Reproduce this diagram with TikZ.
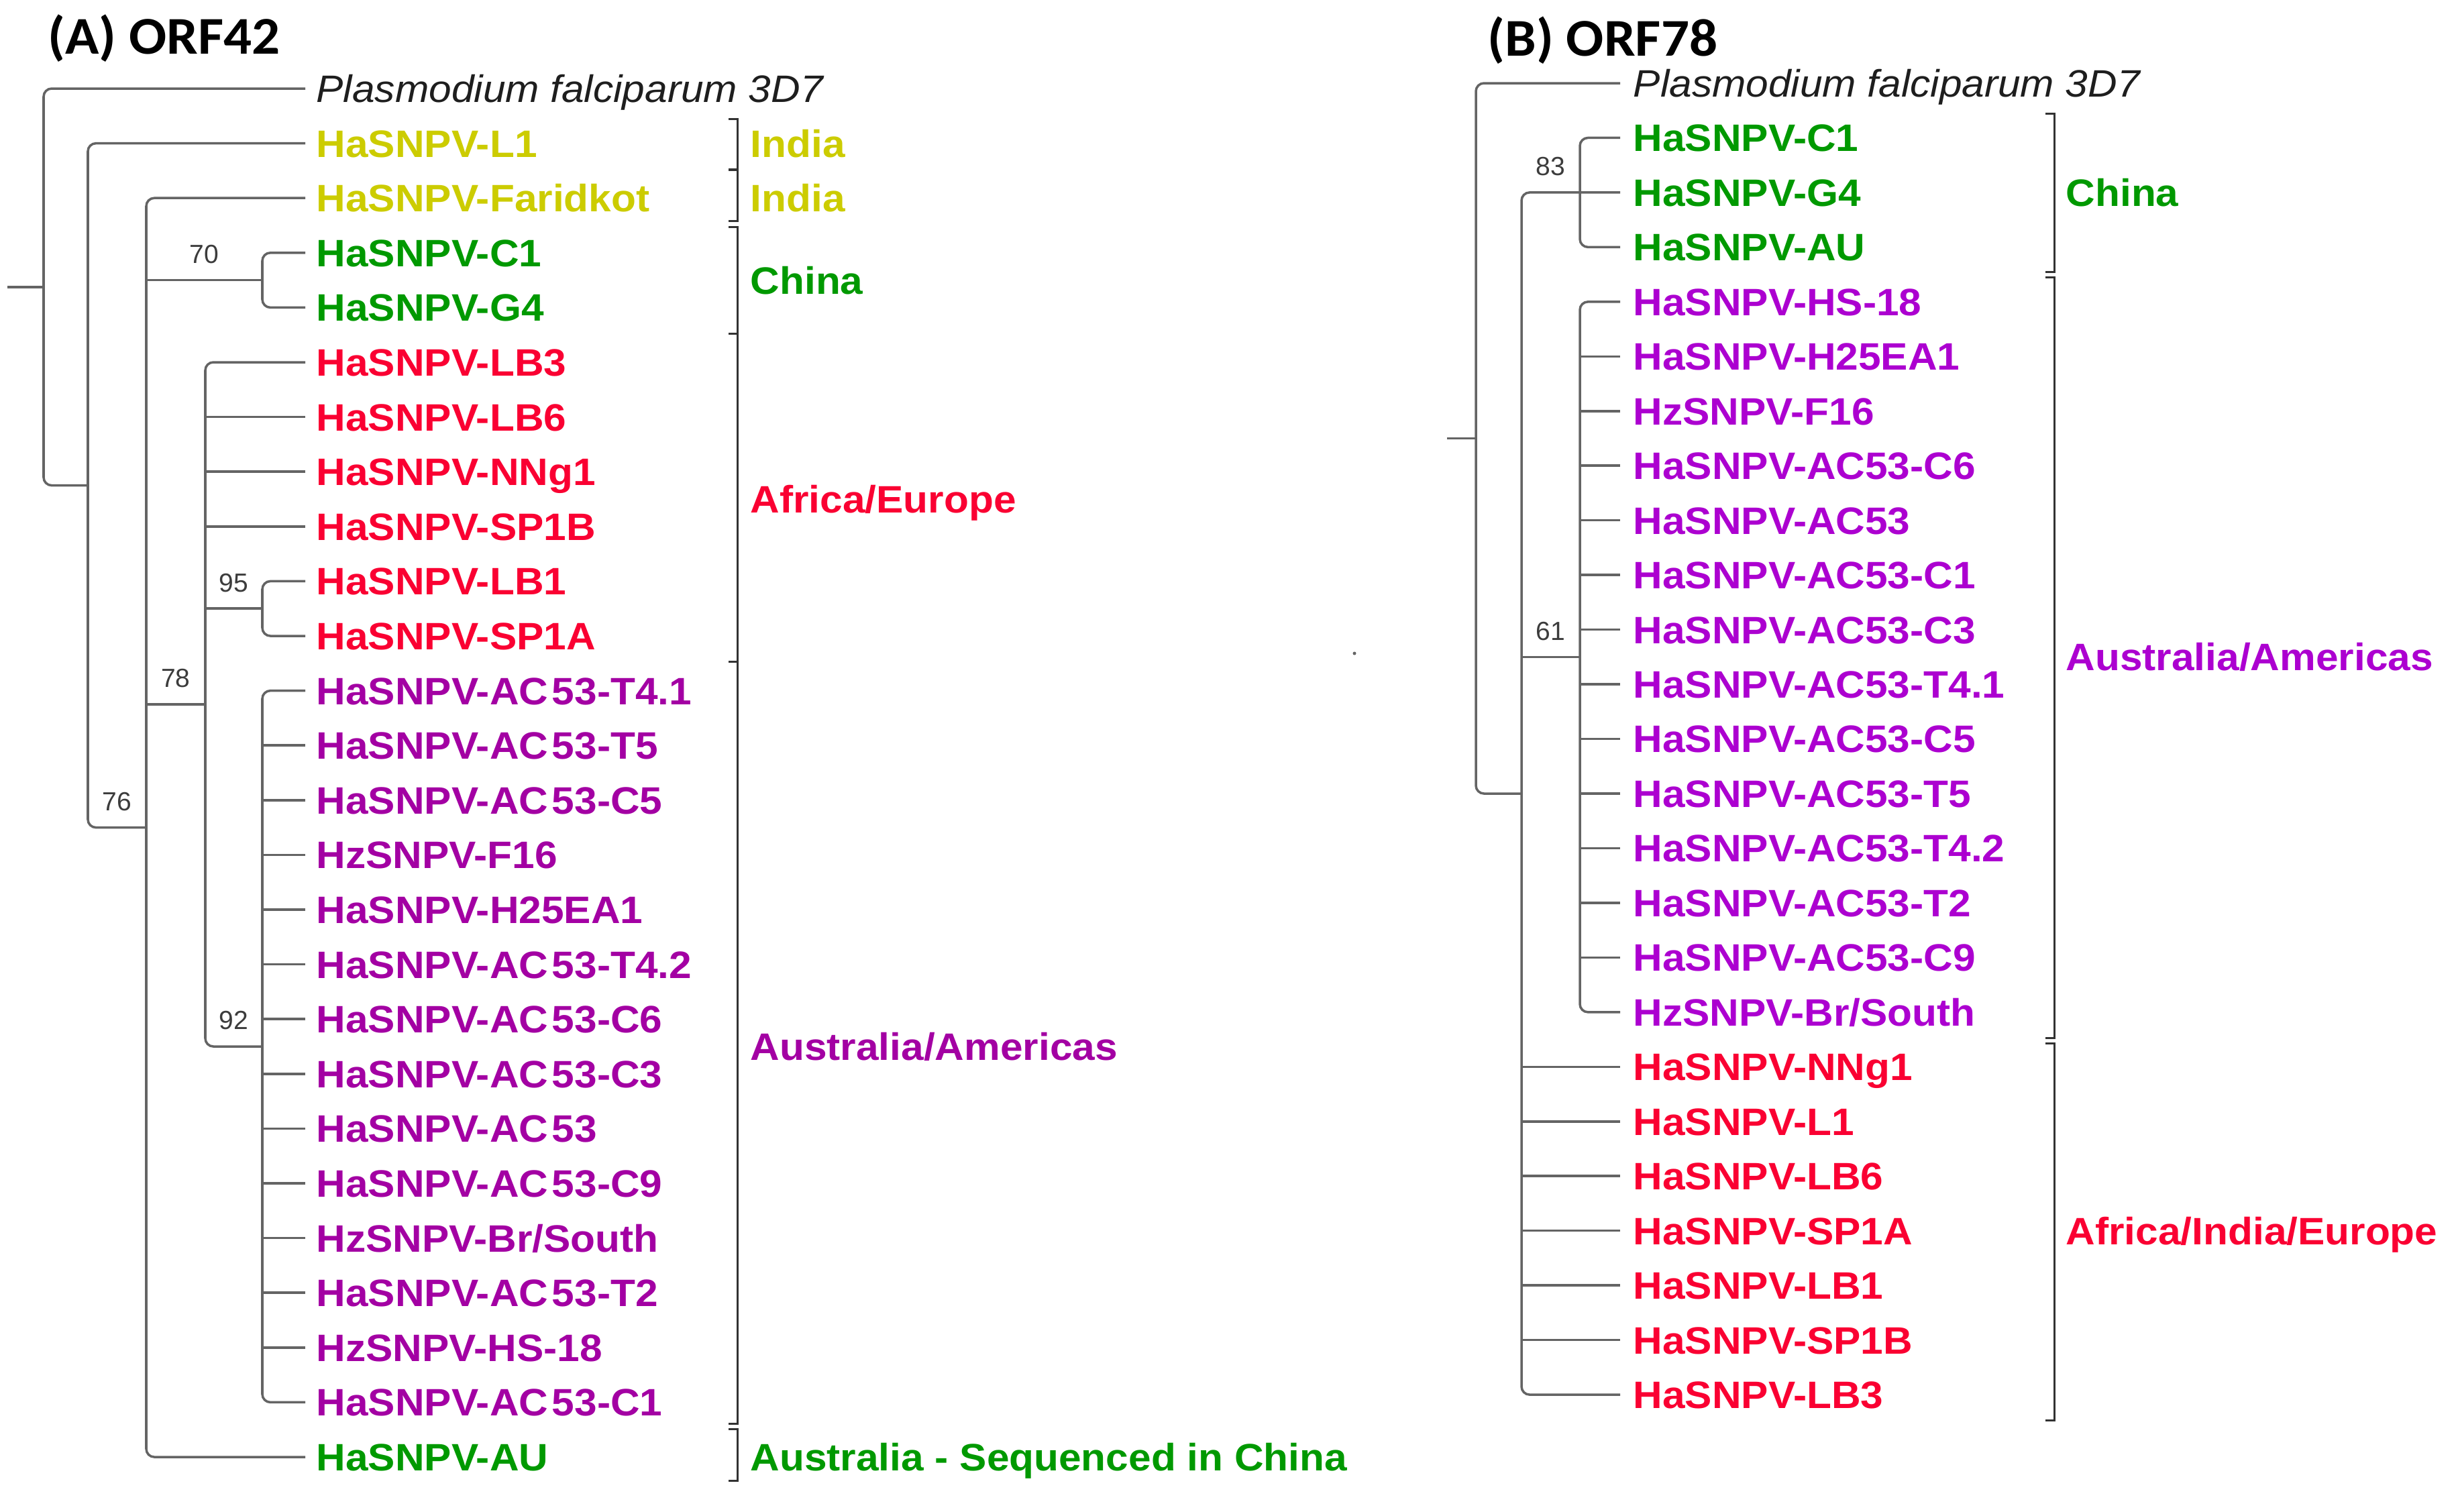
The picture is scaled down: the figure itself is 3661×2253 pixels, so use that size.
\documentclass[tikz,border=0pt]{standalone}
\usepackage{fontspec}
\newfontfamily\labfont[FakeStretch=1.06]{Liberation Sans}
\newfontfamily\titfont[FakeStretch=1.05]{Carlito}
\newfontfamily\numfont{Liberation Sans}
\definecolor{indiaY}{RGB}{204,204,0}
\definecolor{chinaG}{RGB}{0,153,0}
\definecolor{redR}{RGB}{250,0,50}
\definecolor{purA}{RGB}{163,0,163}
\definecolor{purB}{RGB}{172,0,208}
\definecolor{treegray}{RGB}{100,100,100}
\definecolor{brkgray}{RGB}{50,50,50}
\definecolor{bootgray}{RGB}{60,60,60}
\definecolor{plasblack}{RGB}{30,30,30}
\begin{document}
\begin{tikzpicture}[x=0.01cm,y=-0.01cm,
  tree/.style={draw=treegray,line width=1pt,rounded corners=1.2mm},
  brk/.style={draw=brkgray,line width=0.85pt},
  leaf/.style={anchor=base west,inner sep=0pt,yshift=-2.04mm,font=\labfont\bfseries\fontsize{16.2}{18}\selectfont},
  plas/.style={anchor=base west,inner sep=0pt,yshift=-2.04mm,font=\labfont\itshape\fontsize{16.2}{18}\selectfont,text=plasblack},
  boot/.style={anchor=south,inner sep=0pt,font=\numfont\fontsize{11.1}{13}\selectfont,text=bootgray},
  ttl/.style={anchor=base west,inner sep=0pt,font=\titfont\bfseries\fontsize{22.5}{26}\selectfont}]
\useasboundingbox[fill=white] (0,0) rectangle (3661,2253);

% ================= Panel A =================
\node[ttl] (titleA) at (71,80) {(A) ORF42};
\node[plas] (A0) at (471,132) {Plasmodium falciparum 3D7};
\coordinate (Ae0) at (455,132);
\foreach \i/\t/\c in {1/HaSNPV-L1/indiaY,2/HaSNPV-Faridkot/indiaY,3/HaSNPV-C1/chinaG,4/HaSNPV-G4/chinaG,
  5/HaSNPV-LB3/redR,6/HaSNPV-LB6/redR,7/HaSNPV-NNg1/redR,8/HaSNPV-SP1B/redR,9/HaSNPV-LB1/redR,10/HaSNPV-SP1A/redR,
  11/{HaSNPV-AC\kern.1em 53-T4.1}/purA,12/{HaSNPV-AC\kern.1em 53-T5}/purA,13/{HaSNPV-AC\kern.1em 53-C5}/purA,
  14/HzSNPV-F16/purA,15/HaSNPV-H25EA1/purA,16/{HaSNPV-AC\kern.1em 53-T4.2}/purA,17/{HaSNPV-AC\kern.1em 53-C6}/purA,
  18/{HaSNPV-AC\kern.1em 53-C3}/purA,19/{HaSNPV-AC\kern.1em 53}/purA,20/{HaSNPV-AC\kern.1em 53-C9}/purA,
  21/{HzSNPV-Br/South}/purA,22/{HaSNPV-AC\kern.1em 53-T2}/purA,23/HzSNPV-HS-18/purA,24/{HaSNPV-AC\kern.1em 53-C1}/purA,
  25/HaSNPV-AU/chinaG}{
  \node[leaf,text=\c] (A\i) at (471,{132+81.6*\i}) {\t};
  \coordinate (Ae\i) at (455,{132+81.6*\i});
}
% internal nodes
\coordinate (aStub) at (11,427.8);
\coordinate (aRoot) at (65,427.8);
\coordinate (aN2) at (131,723.6);
\coordinate (a76) at (218,1233.6);
\coordinate (aChina) at (391,417.6);
\coordinate (a78) at (306,1050);
\coordinate (a95) at (391,907.2);
\coordinate (a92) at (391,1560);

\draw[tree] (aStub) -- (aRoot);
\draw[tree] (Ae0) -| (aRoot) |- (aN2);
\draw[tree] (Ae1) -| (aN2) |- (a76);
\draw[tree] (Ae2) -| (a76) |- (Ae25);
\draw[tree] (a76 |- aChina) -- (aChina);
\draw[tree] (a76 |- a78) -- (a78);
\draw[tree] (Ae3) -| (aChina) |- (Ae4);
\draw[tree] (Ae5) -| (a78) |- (a92);
\foreach \i in {6,7,8}{\draw[tree] (a78 |- Ae\i) -- (Ae\i);}
\draw[tree] (a78 |- a95) -- (a95);
\draw[tree] (Ae9) -| (a95) |- (Ae10);
\draw[tree] (Ae11) -| (a92) |- (Ae24);
\foreach \i in {12,...,23}{\draw[tree] (a92 |- Ae\i) -- (Ae\i);}

\node[boot] (bs70) at (304.5,393.6) {70};
\node[boot] (bs76) at (174.5,1209.6) {76};
\node[boot] (bs78) at (262,1026) {78};
\node[boot] (bs95) at (348.5,883.2) {95};
\node[boot] (bs92) at (348.5,1536) {92};

% brackets A
\draw[brk] (1086,177) -- (1099,177) -- (1099,252) -- (1086,252);
\draw[brk] (1086,253) -- (1099,253) -- (1099,329) -- (1086,329);
\draw[brk] (1086,338) -- (1099,338) -- (1099,497) -- (1086,497);
\draw[brk] (1086,497) -- (1099,497) -- (1099,986) -- (1086,986);
\draw[brk] (1086,986) -- (1099,986) -- (1099,2122) -- (1086,2122);
\draw[brk] (1086,2130) -- (1099,2130) -- (1099,2207) -- (1086,2207);

\node[leaf,text=indiaY] (gA1) at (1118,213.6) {India};
\node[leaf,text=indiaY] (gA2) at (1118,295.2) {India};
\node[leaf,text=chinaG] (gA3) at (1118,417.6) {China};
\node[leaf,text=redR] (gA4) at (1118,744.4) {Africa/Europe};
\node[leaf,text=purA] (gA5) at (1118,1560) {Australia/Americas};
\node[leaf,text=chinaG] (gA6) at (1118,2172) {Australia - Sequenced in China};

% ================= Panel B =================
\node[ttl] (titleB) at (2217,83) {(B) ORF78};
\node[plas] (B0) at (2434,124) {Plasmodium falciparum 3D7};
\coordinate (Be0) at (2415,124);
\foreach \i/\t/\c in {1/HaSNPV-C1/chinaG,2/HaSNPV-G4/chinaG,3/HaSNPV-AU/chinaG,
  4/HaSNPV-HS-18/purB,5/HaSNPV-H25EA1/purB,6/HzSNPV-F16/purB,7/HaSNPV-AC53-C6/purB,8/HaSNPV-AC53/purB,
  9/HaSNPV-AC53-C1/purB,10/HaSNPV-AC53-C3/purB,11/HaSNPV-AC53-T4.1/purB,12/HaSNPV-AC53-C5/purB,
  13/HaSNPV-AC53-T5/purB,14/HaSNPV-AC53-T4.2/purB,15/HaSNPV-AC53-T2/purB,16/HaSNPV-AC53-C9/purB,
  17/{HzSNPV-Br/South}/purB,18/HaSNPV-NNg1/redR,19/HaSNPV-L1/redR,20/HaSNPV-LB6/redR,21/HaSNPV-SP1A/redR,
  22/HaSNPV-LB1/redR,23/HaSNPV-SP1B/redR,24/HaSNPV-LB3/redR}{
  \node[leaf,text=\c] (B\i) at (2434,{124+81.46*\i}) {\t};
  \coordinate (Be\i) at (2415,{124+81.46*\i});
}
\coordinate (bStub) at (2157,653.5);
\coordinate (bRoot) at (2200,653.5);
\coordinate (bN2) at (2268,1183);
\coordinate (bChina) at (2355,286.9);
\coordinate (bPur) at (2355,979.3);

\draw[tree] (bStub) -- (bRoot);
\draw[tree] (Be0) -| (bRoot) |- (bN2);
\draw[tree] (bChina) -| (bN2) |- (Be24);
\draw[tree] (bN2 |- bPur) -- (bPur);
\foreach \i in {18,...,23}{\draw[tree] (bN2 |- Be\i) -- (Be\i);}
\draw[tree] (Be1) -| (bChina) |- (Be3);
\draw[tree] (bChina) -- (Be2);
\draw[tree] (Be4) -| (bPur) |- (Be17);
\foreach \i in {5,...,16}{\draw[tree] (bPur |- Be\i) -- (Be\i);}

\node[boot] (bs83) at (2311.5,262.9) {83};
\node[boot] (bs61) at (2311.5,955.3) {61};

% brackets B
\draw[brk] (3049,169) -- (3062,169) -- (3062,405) -- (3049,405);
\draw[brk] (3049,413) -- (3062,413) -- (3062,1547) -- (3049,1547);
\draw[brk] (3049,1555) -- (3062,1555) -- (3062,2117) -- (3049,2117);

\node[leaf,text=chinaG] (gB1) at (3079,286.9) {China};
\node[leaf,text=purB] (gB2) at (3079,979.3) {Australia/Americas};
\node[leaf,text=redR] (gB3) at (3079,1834.7) {Africa/India/Europe};

\fill[treegray] (2019,974) circle (0.25mm);
\end{tikzpicture}
\end{document}
